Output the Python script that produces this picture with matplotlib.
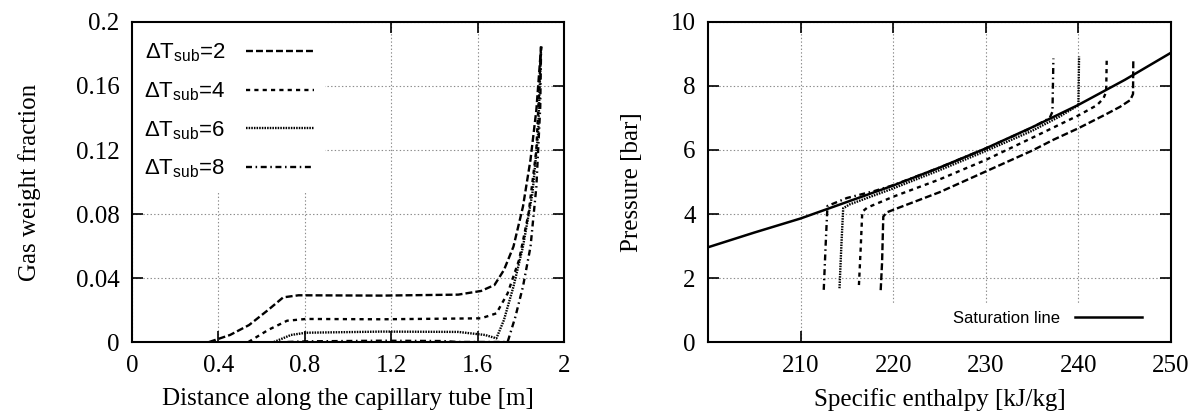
import matplotlib
matplotlib.use("Agg")
import matplotlib.pyplot as plt
from matplotlib.patches import Rectangle

plt.rcParams['font.family'] = ['Liberation Serif', 'DejaVu Serif']
plt.rcParams['mathtext.fontset'] = 'custom'
plt.rcParams['mathtext.rm'] = 'Liberation Sans'
plt.rcParams['mathtext.it'] = 'Liberation Sans:italic'
plt.rcParams['lines.scale_dashes'] = False

# ---- left panel: gas weight fraction along the tube ----
x_dt2 = [0.357, 0.454, 0.542, 0.630, 0.700, 0.771, 1.158, 1.510, 1.616, 1.678, 1.722, 1.766, 1.810, 1.845, 1.872, 1.894]
y_dt2 = [0.0, 0.0044, 0.0106, 0.0200, 0.0279, 0.0292, 0.0290, 0.0296, 0.0319, 0.0356, 0.0450, 0.0596, 0.0846, 0.114, 0.145, 0.1846]

x_dt4 = [0.539, 0.630, 0.718, 0.806, 1.158, 1.616, 1.687, 1.739, 1.792, 1.836, 1.872, 1.894]
y_dt4 = [0.0, 0.0075, 0.0133, 0.0144, 0.0142, 0.0148, 0.0179, 0.0304, 0.0513, 0.0804, 0.120, 0.1846]

x_dt6 = [0.657, 0.736, 0.806, 1.158, 1.510, 1.634, 1.687, 1.722, 1.766, 1.810, 1.854, 1.880, 1.894]
y_dt6 = [0.0, 0.0044, 0.0058, 0.0065, 0.0063, 0.0044, 0.0023, 0.0138, 0.0346, 0.0596, 0.093, 0.130, 0.1846]

x_dt8 = [0.72, 0.806, 1.158, 1.440, 1.510, 1.739, 1.775, 1.810, 1.845, 1.872, 1.890, 1.894]
y_dt8 = [0.0, 0.0004, 0.0008, 0.0006, 0.0, 0.0, 0.0158, 0.0346, 0.0596, 0.097, 0.147, 0.1846]

left_xticks = [0, 0.4, 0.8, 1.2, 1.6, 2]
left_xlabels = ['0', '0.4', '0.8', '1.2', '1.6', '2']
left_yticks = [0, 0.04, 0.08, 0.12, 0.16, 0.2]
left_ylabels = ['0', '0.04', '0.08', '0.12', '0.16', '0.2']

# ---- right panel: pressure vs enthalpy ----
h_sat = [200, 205, 210, 215, 220, 225, 230, 235, 240, 245, 250]
p_sat = [2.96, 3.42, 3.86, 4.375, 4.89, 5.45, 6.05, 6.71, 7.41, 8.19, 9.04]

h_dt2 = [218.65, 218.8, 218.93, 219.3, 220, 225, 230, 235, 237.3, 240, 243, 244.5, 245.6, 245.9, 245.93]
p_dt2 = [1.62, 2.5, 3.92, 4.05, 4.13, 4.68, 5.33, 5.98, 6.32, 6.68, 7.12, 7.35, 7.56, 7.75, 8.86]

h_dt4 = [216.3, 216.5, 216.66, 217.2, 220, 225, 230, 235, 240, 242.0, 242.7, 243.0, 243.06]
p_dt4 = [1.78, 3.0, 4.07, 4.2, 4.54, 5.08, 5.69, 6.38, 7.08, 7.4, 7.61, 7.82, 8.86]

h_dt6 = [214.2, 214.4, 214.6, 215.3, 220, 225, 230, 235, 238, 240.0, 240.07]
p_dt6 = [1.68, 3.0, 4.18, 4.3, 4.8, 5.37, 5.97, 6.6, 7.05, 7.4, 8.92]

h_dt8 = [212.5, 212.7, 212.9, 215, 218, 220, 225, 230, 235, 236.9, 237.2, 237.3]
p_dt8 = [1.63, 3.0, 4.25, 4.5, 4.72, 4.9, 5.45, 6.05, 6.7, 7.0, 7.2, 8.86]

right_xticks = [210, 220, 230, 240, 250]
right_yticks = [0, 2, 4, 6, 8, 10]

labels = ['ΔT$_{\\mathrm{sub}}$=2', 'ΔT$_{\\mathrm{sub}}$=4', 'ΔT$_{\\mathrm{sub}}$=6', 'ΔT$_{\\mathrm{sub}}$=8']
styles = [(0, (5, 2.2)), (0, (3, 3)), (0, (1.1, 0.8)), (0, (4.3, 2.6, 1.1, 2.6))]

fig = plt.figure(figsize=(11.98, 4.15), dpi=100)
ax1 = fig.add_axes([132 / 1198, 73 / 415, 432 / 1198, 320 / 415])
ax2 = fig.add_axes([708 / 1198, 73 / 415, 463 / 1198, 320 / 415])

for ax in (ax1, ax2):
    ax.set_axisbelow(True)
    ax.grid(True, color='#8c8c8c', linestyle=(0, (1, 1.6)), linewidth=0.8)
    ax.tick_params(direction='in', top=True, right=True, length=8, width=1.2,
                   labelsize=18, pad=9)
    for s in ax.spines.values():
        s.set_linewidth(1.5)

lw = 1.7
series_left = [(x_dt2, y_dt2), (x_dt4, y_dt4), (x_dt6, y_dt6), (x_dt8, y_dt8)]
for (xs, ys), lab, ls in zip(series_left, labels, styles):
    ax1.plot(xs, ys, color='black', linestyle=ls, linewidth=lw, label=lab)

ax1.set_xlim(0, 2)
ax1.set_ylim(0, 0.2)
ax1.set_xticks(left_xticks, left_xlabels)
ax1.set_yticks(left_yticks, left_ylabels)
ax1.set_xlabel('Distance along the capillary tube [m]', fontsize=18, labelpad=8)
ax1.set_ylabel('Gas weight fraction', fontsize=18, labelpad=25)
# key area hides the grid, as in the original
ax1.add_patch(Rectangle((0, 0.465), 0.447, 0.535, transform=ax1.transAxes,
                        facecolor='white', edgecolor='none', zorder=1))
ax1.legend(loc='upper left', bbox_to_anchor=(0.028, 0.938), frameon=False, markerfirst=False,
           prop={'family': 'Liberation Sans', 'size': 16}, handlelength=3.06,
           handletextpad=0.95, labelspacing=0.72, borderpad=0, borderaxespad=0)

series_right = [(h_dt2, p_dt2), (h_dt4, p_dt4), (h_dt6, p_dt6), (h_dt8, p_dt8)]
for (xs, ys), ls in zip(series_right, styles):
    ax2.plot(xs, ys, color='black', linestyle=ls, linewidth=lw)
ax2.plot(h_sat, p_sat, color='black', linewidth=1.8, label='Saturation line')

ax2.set_xlim(200, 250)
ax2.set_ylim(0, 10)
ax2.set_xticks(right_xticks)
ax2.set_yticks(right_yticks)
ax2.set_xlabel('Specific enthalpy [kJ/kg]', fontsize=18, labelpad=8)
ax2.set_ylabel('Pressure [bar]', fontsize=18, labelpad=20)
ax2.add_patch(Rectangle((0.3, 0), 0.7, 0.116, transform=ax2.transAxes,
                        facecolor='white', edgecolor='none', zorder=1))
ax2.legend(loc='lower right', bbox_to_anchor=(0.937, 0.05), frameon=False, markerfirst=False,
           prop={'family': 'Liberation Sans', 'size': 12}, handlelength=4.0,
           handletextpad=0.9, borderpad=0, borderaxespad=0)

fig.savefig('out.png', dpi=100)
